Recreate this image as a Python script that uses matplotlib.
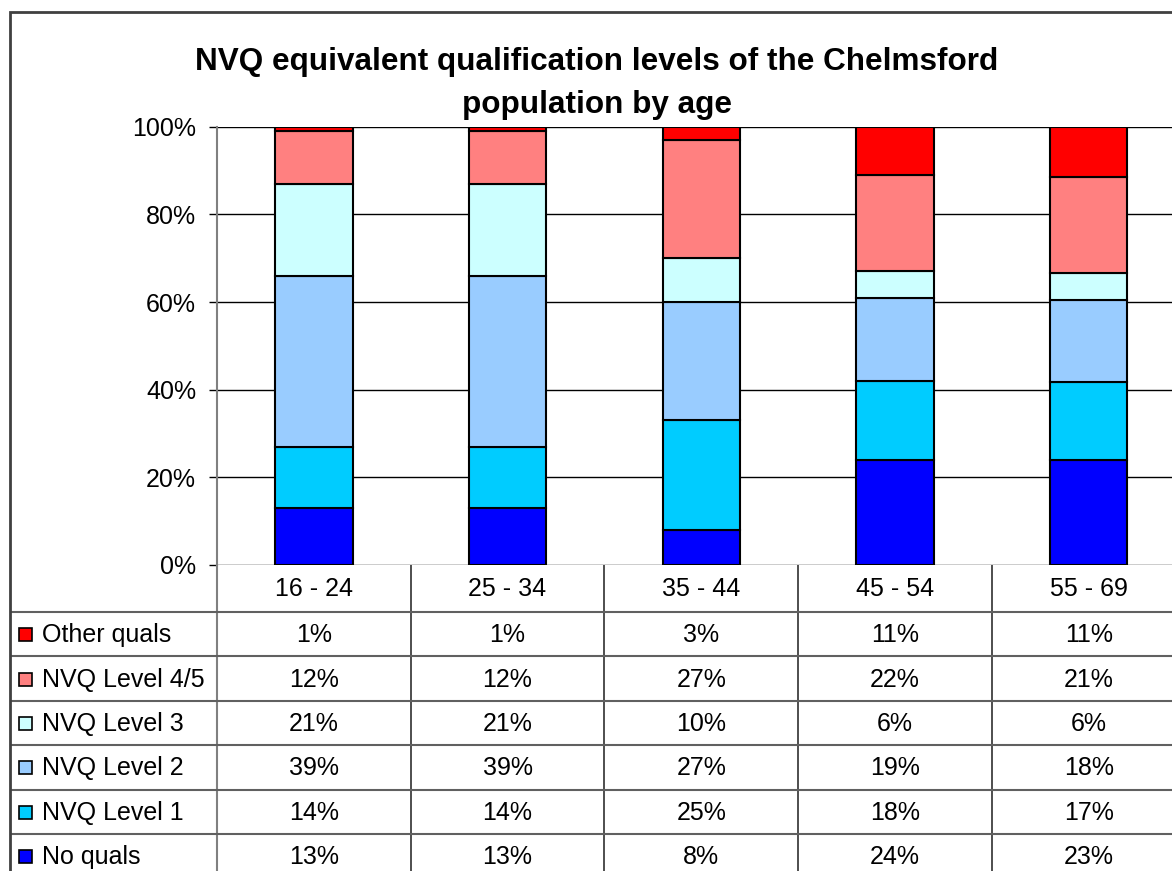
import matplotlib
matplotlib.use("Agg")
import matplotlib.pyplot as plt
from matplotlib.patches import Rectangle
import numpy as np

plt.rcParams['font.family'] = ['Liberation Sans', 'DejaVu Sans']

# data
categories = ['16 - 24', '25 - 34', '35 - 44', '45 - 54', '55 - 69']
series_names = ['No quals', 'NVQ Level 1', 'NVQ Level 2', 'NVQ Level 3', 'NVQ Level 4/5', 'Other quals']
no_quals = [13, 13, 8, 24, 23]
nvq_level1 = [14, 14, 25, 18, 17]
nvq_level2 = [39, 39, 27, 19, 18]
nvq_level3 = [21, 21, 10, 6, 6]
nvq_level45 = [12, 12, 27, 22, 21]
other_quals = [1, 1, 3, 11, 11]
colors = ['#0000FF', '#00CCFF', '#99CCFF', '#CCFFFF', '#FF8080', '#FF0000']
yticks = [0, 20, 40, 60, 80, 100]

series = [no_quals, nvq_level1, nvq_level2, nvq_level3, nvq_level45, other_quals]

W, H = 1172, 871
fig = plt.figure(figsize=(W / 100, H / 100), dpi=100)

# layout (pixels)
plot_left, plot_top, plot_bot = 217, 126.7, 565
col_w = 193.7
plot_right = plot_left + col_w * len(categories)

ax = fig.add_axes([plot_left / W, (H - plot_bot) / H,
                   (plot_right - plot_left) / W, (plot_bot - plot_top) / H])

vals = np.array(series, dtype=float)
share = vals / vals.sum(axis=0) * 100
x = np.arange(len(categories)) + 0.5
bottom = np.zeros(len(categories))
for i in range(len(series)):
    ax.bar(x, share[i], 0.4, bottom=bottom, color=colors[i],
           edgecolor='black', linewidth=1.5, zorder=3)
    bottom += share[i]

ax.set_xlim(0, len(categories))
ax.set_ylim(0, 100)
ax.set_yticks(yticks)
ax.set_yticklabels([f'{t}%' for t in yticks], fontsize=18)
ax.set_xticks([])
ax.tick_params(axis='y', length=6, width=1, color='black', pad=9)
ax.grid(axis='y', color='black', linewidth=1, zorder=0)
for s in ['top', 'right', 'bottom']:
    ax.spines[s].set_visible(False)
ax.spines['left'].set_color('#808080')
ax.spines['left'].set_linewidth(1.5)

# data table under the plot
lab_w = (plot_left - 10) / col_w
head_h, row_h = 47, 44.4
tab_h = head_h + row_h * len(series)
tax = fig.add_axes([10 / W, (H - plot_bot - tab_h) / H,
                    (plot_right - 10) / W, tab_h / H])
tax.set_xlim(-lab_w, len(categories))
tax.set_ylim(tab_h, 0)
tax.axis('off')

line_c = '#606060'
tax.plot([0, 0], [0, tab_h], color='#808080', lw=1.5)
for j in range(1, len(categories)):
    tax.plot([j, j], [0, tab_h], color='#303030', lw=1.2)
for k in range(len(series)):
    yy = head_h + row_h * k
    tax.plot([-lab_w, len(categories)], [yy, yy], color=line_c, lw=1.5)

for j, c in enumerate(categories):
    tax.text(j + 0.5, head_h / 2 + 1, c, ha='center', va='center', fontsize=18)

px = 1 / col_w
order = list(range(len(series)))[::-1]
for r, i in enumerate(order):
    yc = head_h + row_h * (r + 0.5)
    tax.add_patch(Rectangle((-lab_w + 9 * px, yc - 6), 13 * px, 13,
                            facecolor=colors[i], edgecolor='black', lw=1.2))
    tax.text(-lab_w + 32 * px, yc + 1, series_names[i], ha='left', va='center', fontsize=18)
    for j in range(len(categories)):
        tax.text(j + 0.5, yc + 1, f'{series[i][j]}%', ha='center', va='center', fontsize=18)

# outer chart border
fig.add_artist(Rectangle((10 / W, -0.1), 1.2, (H - 12) / H + 0.1, transform=fig.transFigure,
                         fill=False, edgecolor='#404040', lw=2))

fig.text(597 / W, (H - 70) / H, 'NVQ equivalent qualification levels of the Chelmsford',
         ha='center', va='baseline', fontsize=22.7, fontweight='bold')
fig.text(597 / W, (H - 113) / H, 'population by age',
         ha='center', va='baseline', fontsize=22.7, fontweight='bold')

fig.savefig('out.png', dpi=100)
